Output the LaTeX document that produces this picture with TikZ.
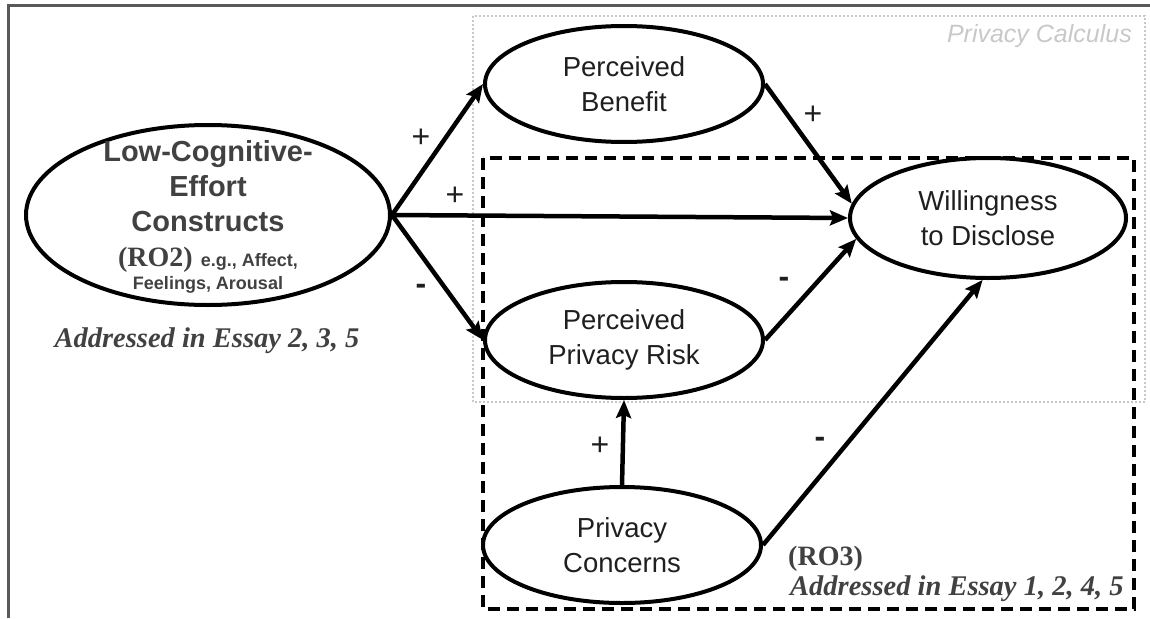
\documentclass[tikz,border=0pt]{standalone}
\usepackage{fontspec}
\setmainfont{Liberation Serif}
\setsansfont{Liberation Sans}
\usetikzlibrary{shapes.geometric,arrows.meta}
\definecolor{framegray}{HTML}{595959}
\definecolor{calcgray}{HTML}{C8C8C8}
\definecolor{txt}{HTML}{1F1F1F}
\begin{document}
\begin{tikzpicture}[x=1pt,y=-1pt,
  construct/.style={ellipse, draw, line width=4pt, minimum width=278pt,
    minimum height=116pt, inner sep=0pt, align=center, text=txt,
    font=\sffamily\fontsize{27.5}{34.5}\selectfont},
  link/.style={line width=4.5pt, -{Stealth[length=18pt,width=15pt,inset=3pt]}},
  sign/.style={font=\sffamily\fontsize{32}{32}\selectfont, text=txt, inner sep=0pt},
  essay/.style={font=\rmfamily\bfseries\itshape\fontsize{28.5}{34}\selectfont,
    text=txt!85!white, inner sep=0pt}]
\useasboundingbox (0,0) rectangle (1150,618);

% outer frame (left and top edges)
\draw[framegray, line width=3pt] (8,618) -- (8,6) -- (1150,6);

% privacy calculus region
\draw[calcgray, line width=2.2pt, dash pattern=on 2pt off 2pt] (473,16) rectangle (1145,402);
\node[anchor=base east, inner sep=0pt, text=calcgray,
  font=\sffamily\itshape\fontsize{25}{25}\selectfont] (calc) at (1132,43) {Privacy Calculus};

% RO3 region
\draw[black, line width=3.2pt, dash pattern=on 12pt off 7pt] (483,158) rectangle (1134,609);

% constructs
\node[construct, minimum width=364pt, minimum height=180pt] (low) at (208,215) {};
\node[align=center, text=txt!85!white, inner sep=0pt,
  font=\sffamily\bfseries\fontsize{29}{34.7}\selectfont] (lowtext) at (208,217)
  {Low-Cognitive-\\Effort\\Constructs\\{\rmfamily\fontsize{28}{34}\selectfont(RO2)}
   {\fontsize{18}{22}\selectfont e.g., Affect,}\\[-11.5pt]{\fontsize{18}{22}\selectfont Feelings, Arousal}};
\node[essay, anchor=base] (essayA) at (207,347) {Addressed in Essay 2, 3, 5};

\node[construct] (benefit) at (624,84) {Perceived\\Benefit};
\node[construct, minimum width=276pt, minimum height=120pt] (will) at (988,218) {Willingness\\to Disclose};
\node[construct] (risk) at (624,340) {Perceived\\Privacy Risk};
\node[construct] (concern) at (622,545) {Privacy\\Concerns};

\node[anchor=base west, inner sep=0pt, text=txt!85!white,
  font=\rmfamily\bfseries\fontsize{28}{34}\selectfont] (ro3) at (788,565) {(RO3)};
\node[essay, anchor=base west] (essayB) at (790,595) {Addressed in Essay 1, 2, 4, 5};

% paths
\draw[link] (low.east) -- (benefit.west);
\draw[link] (low.east) -- (will.west);
\draw[link] (low.east) -- (risk.west);
\draw[link] (benefit.east) -- (will.174);
\draw[link] (risk.east) -- (will.189);
\draw[link] (concern.north) -- (risk.south);
\draw[link] (concern.east) -- (will.265);

% signs
\node[sign] (s1) at (421,138) {+};
\node[sign] (s2) at (455,196) {+};
\node[sign, font=\sffamily\bfseries\fontsize{32}{32}\selectfont] (s3) at (421,289) {-};
\node[sign] (s4) at (813,115) {+};
\node[sign, font=\sffamily\bfseries\fontsize{32}{32}\selectfont] (s5) at (784,282) {-};
\node[sign] (s6) at (600,446) {+};
\node[sign, font=\sffamily\bfseries\fontsize{32}{32}\selectfont] (s7) at (820,442) {-};
\end{tikzpicture}
\end{document}
